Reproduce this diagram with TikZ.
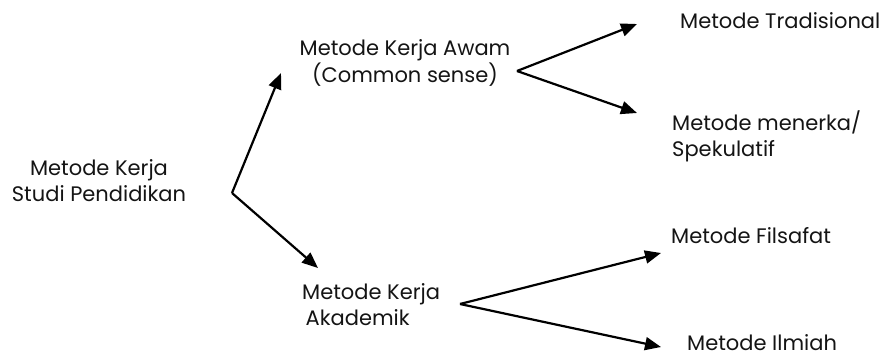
\documentclass[tikz,border=0pt]{standalone}
\usepackage{fontspec}
\setmainfont{Poppins}
\usetikzlibrary{arrows.meta}

\tikzset{
  label text/.style={inner sep=0pt, font=\fontsize{21bp}{26bp}\selectfont, text=black!92},
  branch/.style={line width=2.2bp, -{Triangle[length=16bp,width=13bp]}},
}
\newcommand{\twolines}[3]{\begin{tabular}[t]{@{}#1@{}}#2\\#3\end{tabular}}

\begin{document}
\begin{tikzpicture}[x=1bp, y=-1bp]
  \useasboundingbox (0,0) rectangle (887,356);

  % texts
  \node[label text, anchor=base] (root) at (99,175) {\twolines{c}{Metode Kerja}{Studi Pendidikan}};
  \node[label text, anchor=base] (awam) at (405,55) {\twolines{c}{Metode Kerja Awam}{(Common sense)}};
  \node[label text, anchor=base west] (akad) at (302,299) {\twolines{l}{Metode Kerja}{\,Akademik}};
  \node[label text, anchor=base west] (trad) at (680,28) {Metode Tradisional};
  \node[label text, anchor=base west] (spek) at (672,130) {\twolines{l}{Metode menerka/}{Spekulatif}};
  \node[label text, anchor=base west] (fils) at (671,243) {Metode Filsafat};
  \node[label text, anchor=base west] (ilmi) at (687,350) {Metode Ilmiah};

  % fork points and arrow ends
  \coordinate (rootfork) at (232,193);
  \coordinate (awamfork) at (517,71);
  \coordinate (akadfork) at (460,304);
  \coordinate (toawam) at (281,73);
  \coordinate (toakad) at (318,268);
  \coordinate (totrad) at (637,24);
  \coordinate (tospek) at (637,113);
  \coordinate (tofils) at (661,253);
  \coordinate (toilmi) at (661,347);

  % connectors
  \draw[branch] (rootfork) -- (toawam);
  \draw[branch] (rootfork) -- (toakad);
  \draw[branch] (awamfork) -- (totrad);
  \draw[branch] (awamfork) -- (tospek);
  \draw[branch] (akadfork) -- (tofils);
  \draw[branch] (akadfork) -- (toilmi);
\end{tikzpicture}
\end{document}
